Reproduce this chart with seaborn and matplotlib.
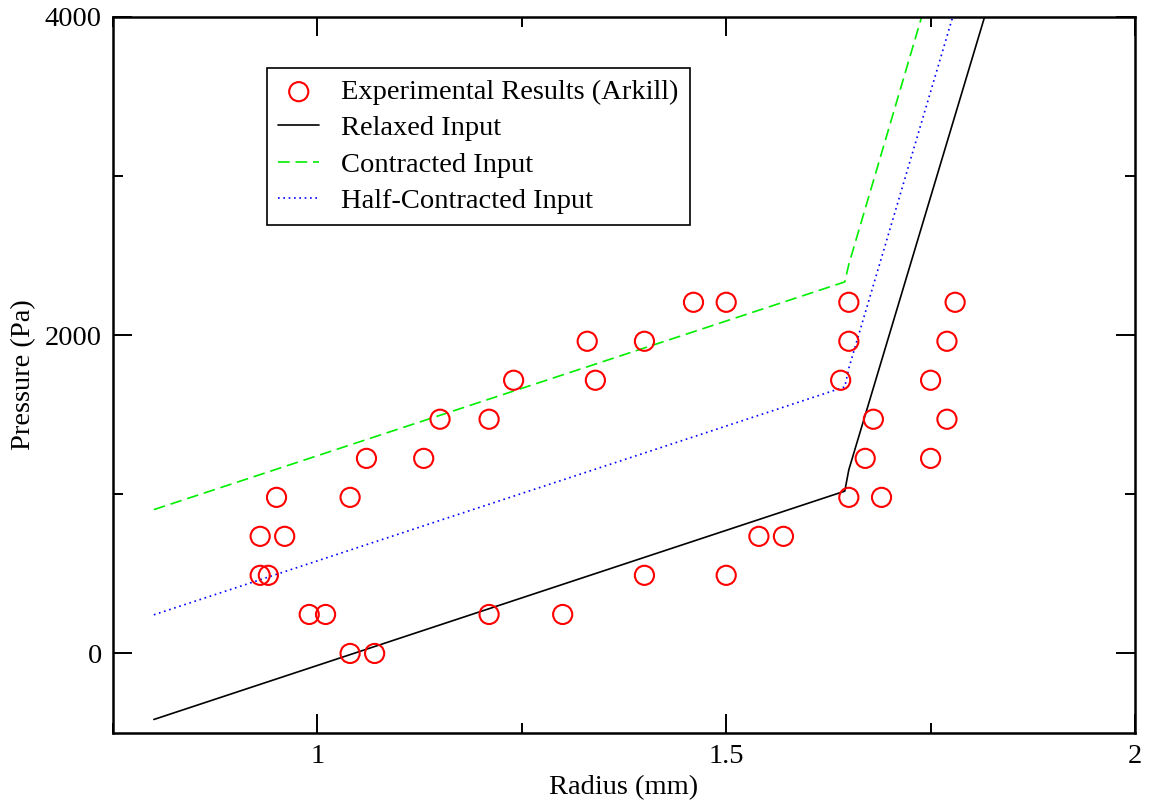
import numpy as np
import pandas as pd
import matplotlib
matplotlib.use("Agg")
import matplotlib.pyplot as plt
import seaborn as sns

# Experimental measurements (Arkill): pressure levels and radii
exp_radius = [1.04, 1.07,
              0.99, 1.01, 1.21, 1.30,
              0.93, 0.94, 1.40, 1.50,
              0.93, 0.96, 1.54, 1.57,
              0.95, 1.04, 1.65, 1.69,
              1.06, 1.13, 1.67, 1.75,
              1.15, 1.21, 1.68, 1.77,
              1.24, 1.34, 1.64, 1.75,
              1.33, 1.40, 1.65, 1.77,
              1.46, 1.50, 1.65, 1.78]
exp_pressure = [0, 0,
                245, 245, 245, 245,
                491, 491, 491, 491,
                736, 736, 736, 736,
                981, 981, 981, 981,
                1226, 1226, 1226, 1226,
                1472, 1472, 1472, 1472,
                1717, 1717, 1717, 1717,
                1962, 1962, 1962, 1962,
                2207, 2207, 2207, 2207]

# Model curves
relaxed_radius = [0.80, 1.645, 1.650, 1.816]
relaxed_pressure = [-415, 1020, 1155, 4000]

contracted_radius = [0.80, 1.645, 1.650, 1.739]
contracted_pressure = [904, 2335, 2446, 4000]

half_radius = [0.80, 1.645, 1.650, 1.777]
half_pressure = [243, 1675, 1793, 4000]

x_ticks = [1, 1.5, 2]
x_tick_labels = ["1", "1.5", "2"]
y_ticks = [0, 2000, 4000]
y_tick_labels = ["0", "2000", "4000"]

sns.set_theme(style="ticks")
plt.rcParams["font.family"] = ["Liberation Serif", "DejaVu Serif"]
plt.rcParams["text.color"] = "black"
plt.rcParams["axes.labelcolor"] = "black"
plt.rcParams["xtick.color"] = "black"
plt.rcParams["ytick.color"] = "black"

FS = 20.5

fig = plt.figure(figsize=(11.57, 8.0), dpi=100)
ax = fig.add_axes([113 / 1157, 1 - 733 / 800, (1135 - 113) / 1157, (733 - 17) / 800])

exp_df = pd.DataFrame({"r": exp_radius, "p": exp_pressure})
sns.scatterplot(data=exp_df, x="r", y="p", ax=ax, marker="o", s=190,
                facecolors="none", edgecolor="#ff0000", linewidth=1.5,
                label="Experimental Results (Arkill)", zorder=3)

sns.lineplot(x=relaxed_radius, y=relaxed_pressure, ax=ax, sort=False,
             estimator=None, color="black", linewidth=1.2,
             label="Relaxed Input")
sns.lineplot(x=contracted_radius, y=contracted_pressure, ax=ax, sort=False,
             estimator=None, color="#00ee00", linewidth=1.2,
             linestyle=(0, (7, 3.5)), label="Contracted Input")
sns.lineplot(x=half_radius, y=half_pressure, ax=ax, sort=False,
             estimator=None, color="#0000ff", linewidth=1.2,
             linestyle=(0, (1, 2.2)), label="Half-Contracted Input")

ax.set_xlim(0.75, 2.0)
ax.set_ylim(-500, 4000)
ax.set_xticks(x_ticks)
ax.set_xticklabels(x_tick_labels)
ax.set_yticks(y_ticks)
ax.set_yticklabels(y_tick_labels)
ax.set_xticks([0.75, 1.25, 1.75], minor=True)
ax.set_yticks([1000, 3000], minor=True)

ax.tick_params(which="both", direction="in", top=True, right=True,
               width=1.4, colors="black", labelcolor="black",
               labelsize=FS, pad=8)
ax.tick_params(which="major", length=14)
ax.tick_params(which="minor", length=7)
for s in ax.spines.values():
    s.set_linewidth(1.8)
    s.set_color("black")

ax.set_xlabel("Radius (mm)", fontsize=FS, labelpad=4, color="black")
ax.set_ylabel("Pressure (Pa)", fontsize=FS, labelpad=6, color="black")

leg = ax.legend(loc="upper left", bbox_to_anchor=(0.1504, 0.929),
                borderaxespad=0, fontsize=FS, frameon=True, fancybox=False,
                shadow=False, handlelength=1.45, handletextpad=0.75,
                labelspacing=0.36, borderpad=0.4)
leg.get_frame().set_edgecolor("black")
leg.get_frame().set_linewidth(1.2)
leg.get_frame().set_alpha(1)
for t in leg.get_texts():
    t.set_color("black")

fig.savefig("out.png", dpi=100)
